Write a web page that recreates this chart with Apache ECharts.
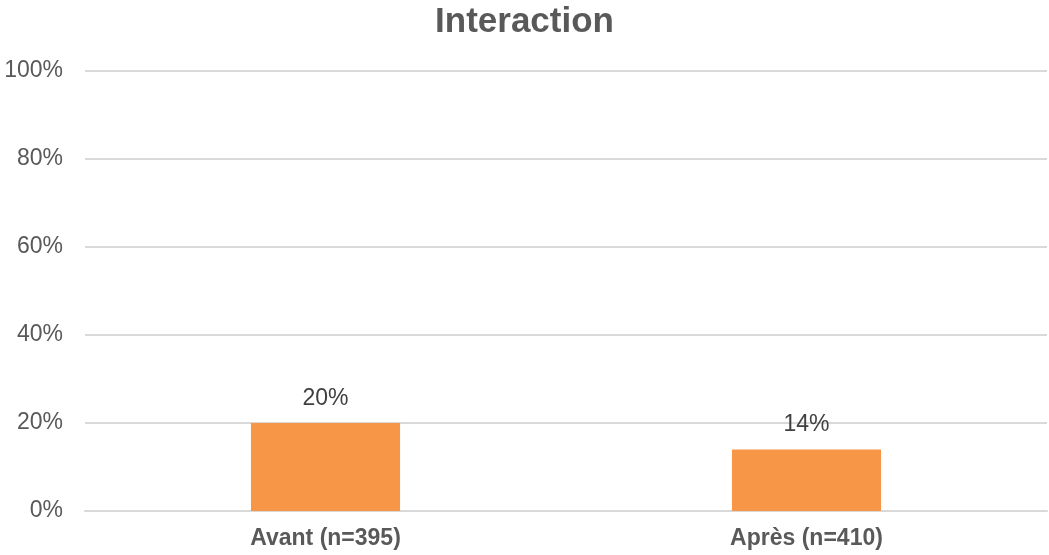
<!DOCTYPE html>
<html><head><meta charset="utf-8">
<script src="https://cdn.jsdelivr.net/npm/echarts@6/dist/echarts.min.js"></script>
<style>html,body{margin:0;padding:0;background:#fff}#c{width:1049px;height:555px}</style>
</head><body><div id="c"></div>
<script>
const categories = ['Avant (n=395)', 'Après (n=410)'];
const values = [20, 14];
const yTicks = [0, 20, 40, 60, 80, 100];

const chart = echarts.init(document.getElementById('c'), null, {renderer: 'canvas'});
chart.setOption({
  animation: false,
  textStyle: {fontFamily: 'Liberation Sans, Arial, sans-serif'},
  title: {
    text: 'Interaction', left: 'center', top: 0,
    textStyle: {fontSize: 35, fontWeight: 'bold', color: '#595959', fontFamily: 'Liberation Sans, Arial, sans-serif'}
  },
  grid: {left: 85, right: 2, top: 71, bottom: 44, containLabel: false},
  xAxis: {
    type: 'category', data: categories,
    axisLine: {show: true, lineStyle: {color: '#d9d9d9', width: 2}},
    axisTick: {show: false},
    axisLabel: {fontSize: 23, fontWeight: 'bold', color: '#595959', margin: 16}
  },
  yAxis: {
    type: 'value', min: yTicks[0], max: yTicks[yTicks.length - 1], interval: 20,
    axisLine: {show: false}, axisTick: {show: false},
    splitLine: {lineStyle: {color: '#d9d9d9', width: 2}},
    axisLabel: {fontSize: 23, color: '#595959', margin: 22, formatter: v => v + '%'}
  },
  series: [{
    type: 'bar', data: values, barWidth: '31%',
    itemStyle: {color: '#F79646'},
    label: {show: true, position: 'top', distance: 13, fontSize: 23, color: '#404040', formatter: p => p.value + '%'}
  }]
});
</script></body></html>
